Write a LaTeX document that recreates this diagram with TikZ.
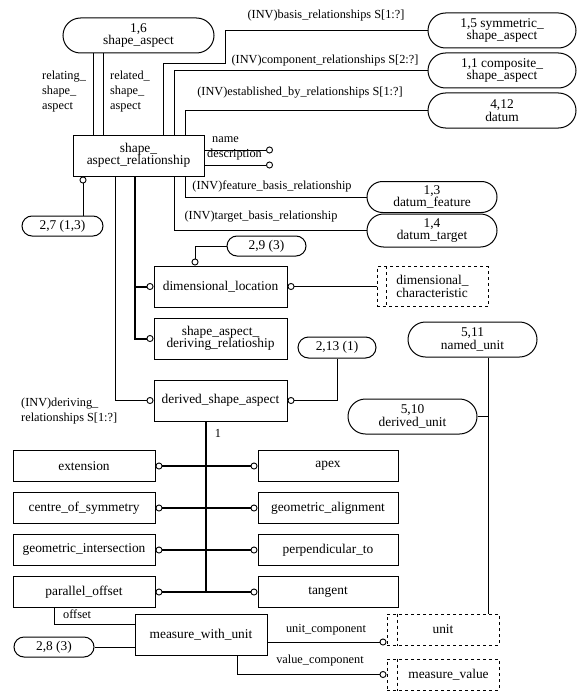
\documentclass[tikz,border=0pt]{standalone}
\usepackage{fontspec}
\setmainfont{Liberation Serif}
\usetikzlibrary{positioning, arrows.meta, shapes.misc}

\begin{document}
\begin{tikzpicture}[
x=1pt, y=-1pt,
node distance=10pt and 102pt,
font=\fontsize{13.4}{12.5}\selectfont,
every node/.style={align=center, inner sep=1pt},
ring/.tip={Circle[open, length=7pt, width=7pt, line width=0.9pt]},
ent/.style={draw, line width=1pt, minimum height=41pt},
leaf/.style={draw, line width=1pt, minimum width=142pt, minimum height=31pt},
pg/.style={draw, rounded rectangle, line width=1pt, minimum height=35pt},
sel/.style={draw, dashed, line width=1pt, minimum width=112pt, minimum height=31pt},
lbl/.style={font=\fontsize{12.3}{15}\selectfont},
link/.style={line width=1pt},
opt/.style={line width=1pt, -ring},
sub/.style={line width=2pt, -ring},
row/.style={line width=2pt, ring-ring}
]
\useasboundingbox (0,0) rectangle (585,698);

% ====== Shape aspect relationship ======
\node[pg, minimum width=153pt] (sa) at (138.5,35.5) {1,6\\shape\_aspect};
\node[ent, minimum width=131pt] (sar) at (138.5,155.5) {shape\_\\aspect\_relationship};
\node[pg, minimum width=150pt] (sym) at (502,30.5) {1,5 symmetric\_\\shape\_aspect};
\node[pg, minimum width=150pt] (comp) at (502,70.5) {1,1 composite\_\\shape\_aspect};
\node[pg, minimum width=150pt] (datum) at (502,110.5) {4,12\\datum};
\node[pg, minimum width=132pt, minimum height=31pt] (dfeat) at (432,197) {1,3\\datum\_feature};
\node[pg, minimum width=132pt, minimum height=33pt] (dtarg) at (432,230.5) {1,4\\datum\_target};
\node[pg, minimum width=83pt, minimum height=20pt] (sa27) at (62.5,226) {2,7 (1,3)};

% ====== Subtypes ======
\node[ent, minimum width=133pt] (dimloc) at (220.5,286.5) {dimensional\_location};
\node[pg, minimum width=81pt, minimum height=20pt] (sa29) at (266.5,246) {2,9 (3)};
\node[sel, minimum width=111pt, minimum height=40pt, align=left] (dimchar) at (432.5,286.5) {dimensional\_\\characteristic};
\node[ent, minimum width=133pt, below=10pt of dimloc] (sadr) {shape\_aspect\_\\deriving\_relatioship};
\node[ent, minimum width=133pt, below=20pt of sadr] (dsa) {derived\_shape\_aspect};
\node[pg, minimum width=80pt, minimum height=21pt] (sa213) at (337,347.5) {2,13 (1)};

% ====== Units ======
\node[pg, minimum width=131pt] (named) at (472.5,339.5) {5,11\\named\_unit};
\node[pg, minimum width=131pt] (dunit) at (412.5,416.5) {5,10\\derived\_unit};

% ====== Derived shape aspects ======
\node[leaf] (ext) at (84,466) {extension};
\node[leaf, below=of ext] (cos) {centre\_of\_symmetry};
\node[leaf, below=of cos] (gint) {geometric\_intersection};
\node[leaf, below=of gint] (poff) {parallel\_offset};
\node[leaf, minimum width=140pt, right=of ext] (apex) {apex};
\node[leaf, minimum width=140pt, right=of cos] (galign) {geometric\_alignment};
\node[leaf, minimum width=140pt, right=of gint] (perp) {perpendicular\_to};
\node[leaf, minimum width=140pt, right=of poff] (tang) {tangent};

% ====== Measure ======
\node[ent, minimum width=132pt] (mwu) at (201,634.5) {measure\_with\_unit};
\node[pg, minimum width=82pt, minimum height=20pt] (sa28) at (54,647) {2,8 (3)};
\node[sel] (unit) at (443,629.5) {unit};
\node[sel] (mval) at (443,674.5) {\hspace*{11pt}measure\_value};
\draw[dashed, link] ([xshift=10pt]dimchar.north west) -- ([xshift=10pt]dimchar.south west);
\draw[dashed, link] ([xshift=11pt]unit.north west) -- ([xshift=11pt]unit.south west);
\draw[dashed, link] ([xshift=11pt]mval.north west) -- ([xshift=11pt]mval.south west);

% ====== Connections ======
\draw[link] ([xshift=-45.5pt]sa.south) -- ([xshift=-45.5pt]sar.north);
\draw[link] ([xshift=-35.5pt]sa.south) -- ([xshift=-35.5pt]sar.north);
\node[lbl, align=left, anchor=west] (lrel1) at (41,92) {relating\_\\shape\_\\aspect};
\node[lbl, align=left, anchor=west] (lrel2) at (109,92) {related\_\\shape\_\\aspect};

\coordinate (bend) at (225,64);
\draw[link] ([xshift=24.5pt]sar.north) |- (bend) |- (sym.west);
\node[lbl] (lbasis) at (326,16) {(INV)basis\_relationships S[1:?]};
\draw[link] ([xshift=35.5pt]sar.north) |- (comp.west);
\node[lbl] (lcomp) at (325,61) {(INV)component\_relationships S[2:?]};
\draw[link] ([xshift=46.5pt]sar.north) |- (datum.west);
\node[lbl] (lest) at (300,93) {(INV)established\_by\_relationships S[1:?]};

\coordinate (nm) at (273,150);
\coordinate (dsc) at (273,165);
\draw[opt] (sar.east |- nm) -- (nm);
\draw[opt] (sar.east |- dsc) -- (dsc);
\node[lbl, anchor=west] (lname) at (211,140) {name};
\node[lbl, anchor=west] (ldesc) at (206,155) {description};

\draw[opt] ([xshift=20.5pt]sa27.north) -- ([xshift=-55.5pt]sar.south);
\draw[link] ([xshift=46.5pt]sar.south) |- (dfeat.west);
\node[lbl] (lfeat) at (272,186) {(INV)feature\_basis\_relationship};
\draw[link] ([xshift=35.5pt]sar.south) |- (dtarg.west);
\node[lbl] (ltarg) at (261,217) {(INV)target\_basis\_relationship};

\coordinate (trunk) at ([xshift=-3.5pt]sar.south);
\draw[sub] (trunk) |- (sadr.west);
\draw[sub] (dimloc.west -| trunk) -- (dimloc.west);
\draw[opt] ([xshift=-23.5pt]sar.south) |- (dsa.west);
\node[lbl, align=left, anchor=west] (lderiv) at (20,411) {(INV)deriving\_\\relationships S[1:?]};

\draw[opt] (sa29.west) -| ([xshift=-25.5pt]dimloc.north);
\draw[link, ring-] (dimloc.east) -- (dimchar.west);
\draw[link, ring-] (dsa.east) -| (sa213.south);

\coordinate (root) at ([xshift=-14.5pt]dsa.south);
\draw[line width=2pt] (root) -- (root |- poff.east);
\node[lbl] (lone) at (218,433) {1};
\draw[row] (ext.east) -- (apex.west);
\draw[row] (cos.east) -- (galign.west);
\draw[row] (gint.east) -- (perp.west);
\draw[row] (poff.east) -- (tang.west);

\draw[link] ([xshift=-30pt]poff.south) |- ([yshift=10.5pt]mwu.west);
\node[lbl, anchor=west] (loff) at (62,614) {offset};
\draw[link] (sa28.east) -- (sa28.east -| mwu.west);
\coordinate (uc) at ([yshift=-7.5pt]mwu.east);
\draw[opt] (uc) -- (uc -| unit.west);
\node[lbl] (lunit) at (326,630) {unit\_component};
\draw[opt] ([xshift=36pt]mwu.south) |- (mval.west);
\node[lbl] (lval) at (320,661) {value\_component};

\coordinate (nu) at ([xshift=15.5pt]named.south);
\draw[link] (nu) -- (nu |- unit.north);
\draw[link] (dunit.east) -- (dunit.east -| nu);

\end{tikzpicture}
\end{document}
